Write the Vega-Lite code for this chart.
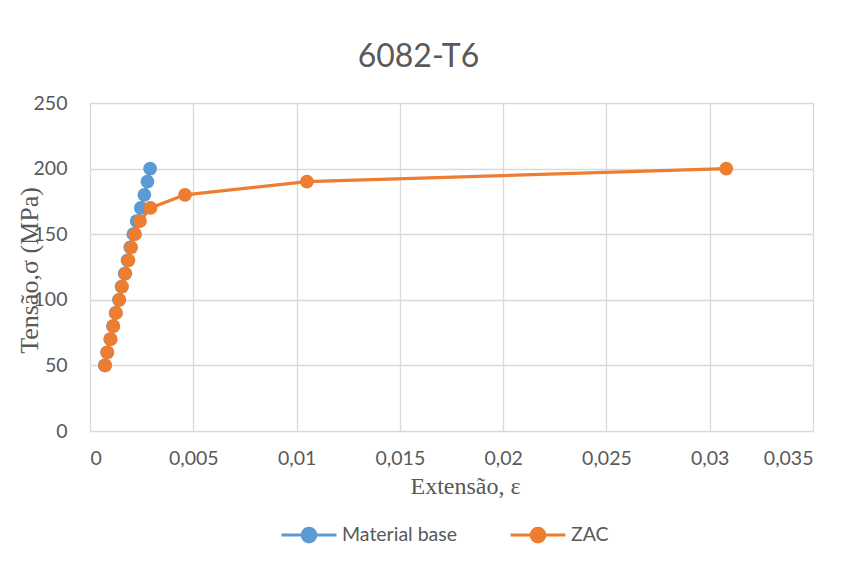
{
  "$schema": "https://vega.github.io/schema/vega-lite/v6.json",
  "autosize": "none",
  "width": 723,
  "height": 328,
  "padding": {"left": 90, "top": 103, "right": 32, "bottom": 139},
  "background": "#ffffff",
  "title": {
    "text": "6082-T6",
    "font": "Lato",
    "fontSize": 32,
    "fontWeight": "normal",
    "color": "#595959",
    "anchor": "middle",
    "baseline": "alphabetic",
    "offset": 36,
    "dx": -33,
    "dy": 42
  },
  "data": {
    "values": [
      {"serie": "Material base", "ext": 0.00072, "tensao": 50},
      {"serie": "Material base", "ext": 0.00083, "tensao": 60},
      {"serie": "Material base", "ext": 0.00098, "tensao": 70},
      {"serie": "Material base", "ext": 0.00111, "tensao": 80},
      {"serie": "Material base", "ext": 0.00124, "tensao": 90},
      {"serie": "Material base", "ext": 0.0014, "tensao": 100},
      {"serie": "Material base", "ext": 0.00153, "tensao": 110},
      {"serie": "Material base", "ext": 0.00168, "tensao": 120},
      {"serie": "Material base", "ext": 0.00182, "tensao": 130},
      {"serie": "Material base", "ext": 0.00195, "tensao": 140},
      {"serie": "Material base", "ext": 0.0021, "tensao": 150},
      {"serie": "Material base", "ext": 0.00226, "tensao": 160},
      {"serie": "Material base", "ext": 0.00246, "tensao": 170},
      {"serie": "Material base", "ext": 0.00263, "tensao": 180},
      {"serie": "Material base", "ext": 0.00278, "tensao": 190},
      {"serie": "Material base", "ext": 0.00291, "tensao": 200},
      {"serie": "ZAC", "ext": 0.00073, "tensao": 50},
      {"serie": "ZAC", "ext": 0.00084, "tensao": 60},
      {"serie": "ZAC", "ext": 0.001, "tensao": 70},
      {"serie": "ZAC", "ext": 0.00113, "tensao": 80},
      {"serie": "ZAC", "ext": 0.00126, "tensao": 90},
      {"serie": "ZAC", "ext": 0.00142, "tensao": 100},
      {"serie": "ZAC", "ext": 0.00155, "tensao": 110},
      {"serie": "ZAC", "ext": 0.00171, "tensao": 120},
      {"serie": "ZAC", "ext": 0.00186, "tensao": 130},
      {"serie": "ZAC", "ext": 0.00199, "tensao": 140},
      {"serie": "ZAC", "ext": 0.00218, "tensao": 150},
      {"serie": "ZAC", "ext": 0.00242, "tensao": 160},
      {"serie": "ZAC", "ext": 0.00293, "tensao": 170},
      {"serie": "ZAC", "ext": 0.0046, "tensao": 180},
      {"serie": "ZAC", "ext": 0.0105, "tensao": 190},
      {"serie": "ZAC", "ext": 0.0308, "tensao": 200}
    ]
  },
  "encoding": {
    "x": {
      "field": "ext",
      "type": "quantitative",
      "title": "Extensão, ε",
      "scale": {"domain": [0, 0.035], "nice": false, "zero": true},
      "axis": {
        "values": [0, 0.005, 0.01, 0.015, 0.02, 0.025, 0.03, 0.035],
        "labelExpr": "replace(format(datum.value, '~g'), '.', ',')",
        "labelPadding": 18,
        "titleFont": "Liberation Serif",
        "titleFontSize": 24,
        "titleX": 375,
        "titleY": 62,
        "titleBaseline": "alphabetic"
      }
    },
    "y": {
      "field": "tensao",
      "type": "quantitative",
      "title": "Tensão,σ (MPa)",
      "scale": {"domain": [0, 250], "nice": false},
      "axis": {
        "values": [0, 50, 100, 150, 200, 250],
        "labelPadding": 23,
        "titleFont": "Liberation Serif",
        "titleFontSize": 26,
        "titleAngle": -90,
        "titleX": -53,
        "titleY": 167,
        "titleAlign": "center",
        "titleBaseline": "alphabetic"
      }
    },
    "color": {
      "field": "serie",
      "type": "nominal",
      "title": null,
      "scale": {"domain": ["Material base", "ZAC"], "range": ["#5B9BD5", "#ED7D31"]},
      "legend": {
        "orient": "none",
        "direction": "horizontal",
        "legendX": 190,
        "legendY": 403,
        "padding": 0,
        "symbolType": "M-1,0L1,0M-0.25,0A0.25,0.25,0,1,1,0.25,0A0.25,0.25,0,1,1,-0.25,0Z",
        "symbolSize": 3025,
        "symbolStrokeWidth": 3,
        "labelOffset": 4,
        "columnPadding": 46,
        "labelFont": "Lato",
        "labelFontSize": 19.5,
        "labelColor": "#595959"
      }
    }
  },
  "layer": [
    {
      "transform": [{"filter": "datum.serie === 'Material base'"}],
      "mark": {"type": "line", "strokeWidth": 3.2}
    },
    {
      "transform": [{"filter": "datum.serie === 'Material base'"}],
      "mark": {"type": "point", "filled": true, "size": 190, "opacity": 1}
    },
    {
      "transform": [{"filter": "datum.serie === 'ZAC'"}],
      "mark": {"type": "line", "strokeWidth": 3.2}
    },
    {
      "transform": [{"filter": "datum.serie === 'ZAC'"}],
      "mark": {"type": "point", "filled": true, "size": 190, "opacity": 1}
    }
  ],
  "config": {
    "view": {"stroke": null},
    "axis": {
      "domain": false,
      "ticks": false,
      "grid": true,
      "gridColor": "#D9D9D9",
      "gridWidth": 1.3,
      "labelFont": "Lato",
      "labelFontSize": 19.5,
      "labelColor": "#595959",
      "titleColor": "#595959",
      "titleFontWeight": "normal"
    }
  }
}
